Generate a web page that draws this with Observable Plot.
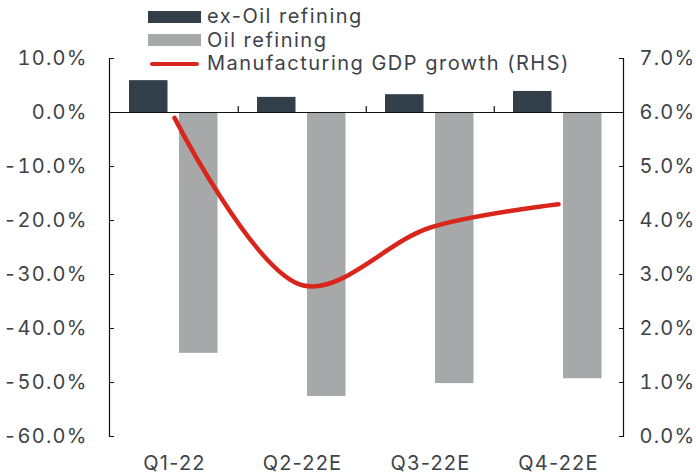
<!DOCTYPE html>
<html><head><meta charset="utf-8">
<script src="https://cdn.jsdelivr.net/npm/d3@7"></script>
<script src="https://cdn.jsdelivr.net/npm/@observablehq/plot@0.6"></script>
<style>
body{margin:0;background:#fff;}
#wrap{position:relative;width:696px;height:476px;font-family:Inter, sans-serif;color:#3d4349;letter-spacing:1.2px;}
#wrap svg{position:absolute;left:0;top:0;}
.legend{position:absolute;left:148px;top:5px;font-size:20px;line-height:23.5px;z-index:2;letter-spacing:1.5px;}
.row{display:flex;align-items:center;height:23.5px;white-space:nowrap;}
.sw{width:53px;height:12px;margin-right:6px;flex:none;}
.ln{width:49px;height:4.5px;border-radius:3px;margin:0 8px 0 2px;flex:none;}
</style></head><body><div id="wrap"></div>
<script>
const quarters = ["Q1-22", "Q2-22E", "Q3-22E", "Q4-22E"];
const exOil = [5.9, 2.8, 3.3, 3.9];
const oil = [-44.6, -52.6, -50.2, -49.3];
const mfgGrowth = [5.9, 2.8, 3.87, 4.3];
const leftTicks = [10, 0, -10, -20, -30, -40, -50, -60];
const rightTicks = [7, 6, 5, 4, 3, 2, 1, 0];
const seriesNames = ["ex-Oil refining", "Oil refining", "Manufacturing GDP growth (RHS)"];
const colors = ["#333f48", "#a7a8aa", "#d9261c"];
const textColor = "#3d4349";

const toLeft = v => (v - 6) * 10;
const toRight = v => v / 10 + 6;

const data = quarters.map((q, i) => ({q, exOil: exOil[i], oil: oil[i], mfg: mfgGrowth[i]}));

const tickShape = {draw(ctx, l) { ctx.moveTo(0, 0); ctx.lineTo(0, -l); }};

const chart = Plot.plot({
  width: 696, height: 476,
  marginLeft: 109, marginRight: 73, marginTop: 58, marginBottom: 40,
  style: {fontFamily: "Inter, sans-serif", fontSize: "20px", color: textColor, background: "white", letterSpacing: "1.2px"},
  x: {type: "band", domain: quarters, padding: 0, axis: null, label: null},
  y: {domain: [-60, 10], axis: null, label: null},
  marks: [
    Plot.barY(data, {x: "q", y: "exOil", fill: colors[0], insetLeft: 19, insetRight: 70.5}),
    Plot.barY(data, {x: "q", y: "oil", fill: colors[1], insetLeft: 69, insetRight: 20.5}),
    Plot.ruleY([0], {stroke: "#111", strokeWidth: 1.2}),
    Plot.vector(quarters.slice(1), {x: d => d, y: 0, length: 6, rotate: 0, anchor: "start", dx: -64.25, shape: tickShape, stroke: "#111", strokeWidth: 1.2}),
    Plot.frame({anchor: "left", stroke: "#111", strokeWidth: 1.2}),
    Plot.frame({anchor: "right", stroke: "#111", strokeWidth: 1.2}),
    Plot.axisY(leftTicks, {anchor: "left", label: null, tickSize: -5, tickPadding: 27, stroke: "#111", fill: textColor, tickFormat: d => d.toFixed(1) + "%"}),
    Plot.axisY(rightTicks.map(toLeft), {anchor: "right", label: null, tickSize: -5, tickPadding: 21, stroke: "#111", fill: textColor, tickFormat: d => toRight(d).toFixed(1) + "%"}),
    Plot.axisX(quarters, {anchor: "bottom", label: null, tickSize: 0, tickPadding: 19, fill: textColor}),
    Plot.line(data, {x: "q", y: d => toLeft(d.mfg), stroke: colors[2], strokeWidth: 4.5, curve: "catmull-rom", strokeLinecap: "round"})
  ]
});

const wrap = document.getElementById("wrap");
wrap.appendChild(chart);
const legend = document.createElement("div");
legend.className = "legend";
seriesNames.forEach((name, i) => {
  const row = document.createElement("div");
  row.className = "row";
  const sw = document.createElement("span");
  sw.className = i < 2 ? "sw" : "ln";
  sw.style.background = colors[i];
  row.appendChild(sw);
  const t = document.createElement("span");
  t.textContent = name;
  row.appendChild(t);
  legend.appendChild(row);
});
wrap.appendChild(legend);
</script></body></html>
